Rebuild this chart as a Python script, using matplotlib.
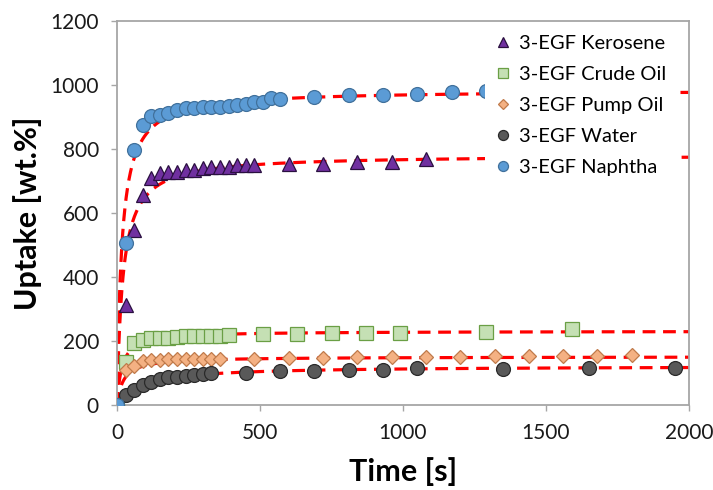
import numpy as np
import matplotlib
matplotlib.use("Agg")
import matplotlib.pyplot as plt

plt.rcParams['font.family'] = ['Lato', 'DejaVu Sans']

# --- data ---
kerosene_t = [0, 30, 60, 90, 120, 150, 180, 210, 240, 270, 300, 330, 360, 390, 420, 450, 480,
              600, 720, 840, 960, 1080]
kerosene = [0, 312, 547, 656, 708, 724, 727, 728, 734, 734, 742, 745, 745, 745, 750, 750, 750,
            752, 752, 758, 760, 769]

crude_t = [0, 30, 60, 90, 120, 150, 180, 210, 240, 270, 300, 330, 360, 390,
           510, 630, 750, 870, 990, 1290, 1590]
crude = [0, 135, 193, 203, 208, 209, 210, 213, 215, 215, 215, 215, 215, 219,
         222, 222, 226, 226, 226, 229, 236]

pump_t = [0, 30, 60, 90, 120, 150, 180, 210, 240, 270, 300, 330, 360,
          480, 600, 720, 840, 960, 1080, 1200, 1320, 1440, 1560, 1680, 1800]
pump = [0, 109, 122, 138, 140, 140, 143, 143, 143, 143, 145, 145, 143,
        145, 148, 148, 151, 151, 151, 151, 153, 153, 153, 153, 156]

water_t = [0, 30, 60, 90, 120, 150, 180, 210, 240, 270, 300, 330,
           450, 570, 690, 810, 930, 1050, 1350, 1650, 1950]
water = [0, 30, 46, 63, 73, 81, 86, 88, 91, 94, 96, 99,
         99, 107, 107, 109, 109, 117, 114, 117, 117]

naphtha_t = [0, 30, 60, 90, 120, 150, 180, 210, 240, 270, 300, 330, 360, 390, 420, 450, 480,
             510, 540, 570, 690, 810, 930, 1050, 1170, 1290]
naphtha = [0, 506, 797, 875, 903, 906, 913, 922, 927, 927, 930, 932, 932, 935, 939, 942, 948,
           948, 958, 956, 961, 969, 969, 972, 979, 981]

# pseudo-second-order fit parameters (qe, k) per series, estimated from the dashed curves
fit_qe = [782, 231, 151, 122, 985]
fit_k = [6.4e-5, 2.6e-4, 3.0e-4, 9.8e-5, 6.1e-5]

labels = ['3-EGF Kerosene', '3-EGF Crude Oil', '3-EGF Pump Oil', '3-EGF Water', '3-EGF Naphtha']

# --- styling ---
styles = [
    dict(marker='^', ms=10, mfc='#7030A0', mec='#2a1040'),
    dict(marker='s', ms=9.5, mfc='#C5E0B4', mec='#6A9F45'),
    dict(marker='D', ms=6.8, mfc='#F4B183', mec='#C07A4A'),
    dict(marker='o', ms=10, mfc='#595959', mec='#2a2a2a'),
    dict(marker='o', ms=10, mfc='#5B9BD5', mec='#41719C'),
]
series = [(kerosene_t, kerosene), (crude_t, crude), (pump_t, pump),
          (water_t, water), (naphtha_t, naphtha)]

fig = plt.figure(figsize=(7.13, 4.9), dpi=100)
ax = fig.add_axes([117 / 713, 85 / 490, 572 / 713, 384 / 490])

t_fit = np.linspace(0, 2000, 2001)
for qe, k in zip(fit_qe, fit_k):
    q = qe * qe * k * t_fit / (1 + qe * k * t_fit)
    ax.plot(t_fit, q, color='#FF0000', lw=2.3, dashes=(4, 2.4), zorder=2,
            solid_capstyle='butt', dash_capstyle='butt')

handles = []
for (t, v), st, lab in zip(series, styles, labels):
    h, = ax.plot(t, v, ls='none', mew=0.9, label=lab, zorder=3, **st)
    handles.append(h)

ax.set_xlim(0, 2000)
ax.set_ylim(0, 1200)
ax.set_xticks(np.arange(0, 2001, 500))
ax.set_yticks(np.arange(0, 1201, 200))
ax.tick_params(axis='both', direction='out', length=4, width=1, color='#a6a6a6',
               labelsize=15, labelcolor='#1a1a1a', pad=9)
for sp in ax.spines.values():
    sp.set_color('#a6a6a6')
    sp.set_linewidth(1.3)

ax.set_xlabel('Time [s]', fontsize=22, fontweight='bold', labelpad=10)
ax.set_ylabel('Uptake [wt.%]', fontsize=22, fontweight='bold', labelpad=6)

leg = ax.legend(handles=handles, loc='upper right', bbox_to_anchor=(0.995, 1.015),
                fontsize=14.5, markerscale=0.72, handlelength=0.8, handletextpad=0.4,
                labelspacing=0.68, frameon=True, framealpha=1, fancybox=False,
                borderpad=0.5)
leg.get_frame().set_edgecolor('none')
leg.get_frame().set_facecolor('white')
leg.set_zorder(5)

fig.savefig('out.png', dpi=100)
